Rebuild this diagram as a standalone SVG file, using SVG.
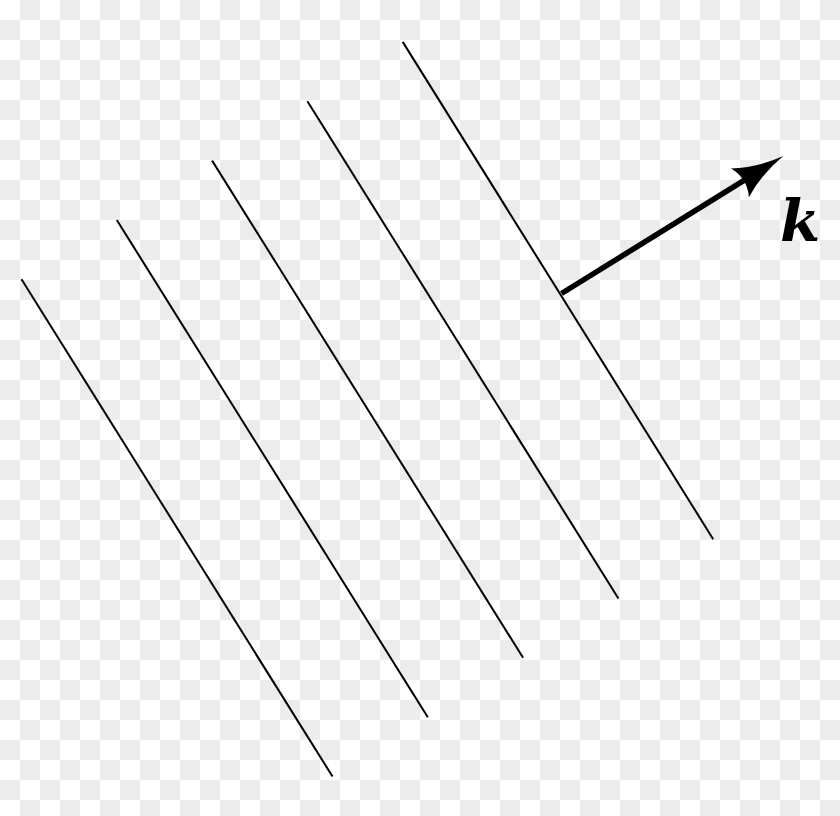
<svg xmlns="http://www.w3.org/2000/svg" width="840" height="816" viewBox="0 0 840 816">
  <defs>
    <pattern id="checker" x="0" y="0" width="40" height="40" patternUnits="userSpaceOnUse">
      <rect x="0" y="0" width="40" height="40" fill="#ffffff"/>
      <rect x="20" y="0" width="20" height="20" fill="#ececec"/>
      <rect x="0" y="20" width="20" height="20" fill="#ececec"/>
    </pattern>
    <style>
      .front { stroke: #000; stroke-width: 2; fill: none; stroke-linecap: butt; }
      .label { font-family: "DejaVu Serif", "Liberation Serif", serif; font-style: italic; font-weight: bold; fill: #000; }
    </style>
  </defs>
  <rect x="0" y="0" width="840" height="816" fill="url(#checker)"/>
  <g id="wavefronts">
    <line id="front1" class="front" x1="21.5" y1="279.3" x2="332.5" y2="776.5"/>
    <line id="front2" class="front" x1="116.8" y1="220" x2="427.8" y2="717.2"/>
    <line id="front3" class="front" x1="212.1" y1="160.6" x2="523.1" y2="657.8"/>
    <line id="front4" class="front" x1="307.4" y1="101.3" x2="618.4" y2="598.5"/>
    <line id="front5" class="front" x1="402.7" y1="41.9" x2="713.2" y2="539.2"/>
  </g>
  <g id="connectors">
    <g id="k-vector" transform="translate(783.3,156) rotate(-31.8)">
      <line x1="-261" y1="0" x2="-40" y2="0" stroke="#000" stroke-width="5.5"/>
      <path d="M0,0 Q-29,4 -51,17 Q-42,0 -51,-17 Q-29,-4 0,0 Z" fill="#000"/>
    </g>
  </g>
  <g id="label-k">
    <text class="label" x="780" y="241" font-size="58">k</text>
  </g>
</svg>
